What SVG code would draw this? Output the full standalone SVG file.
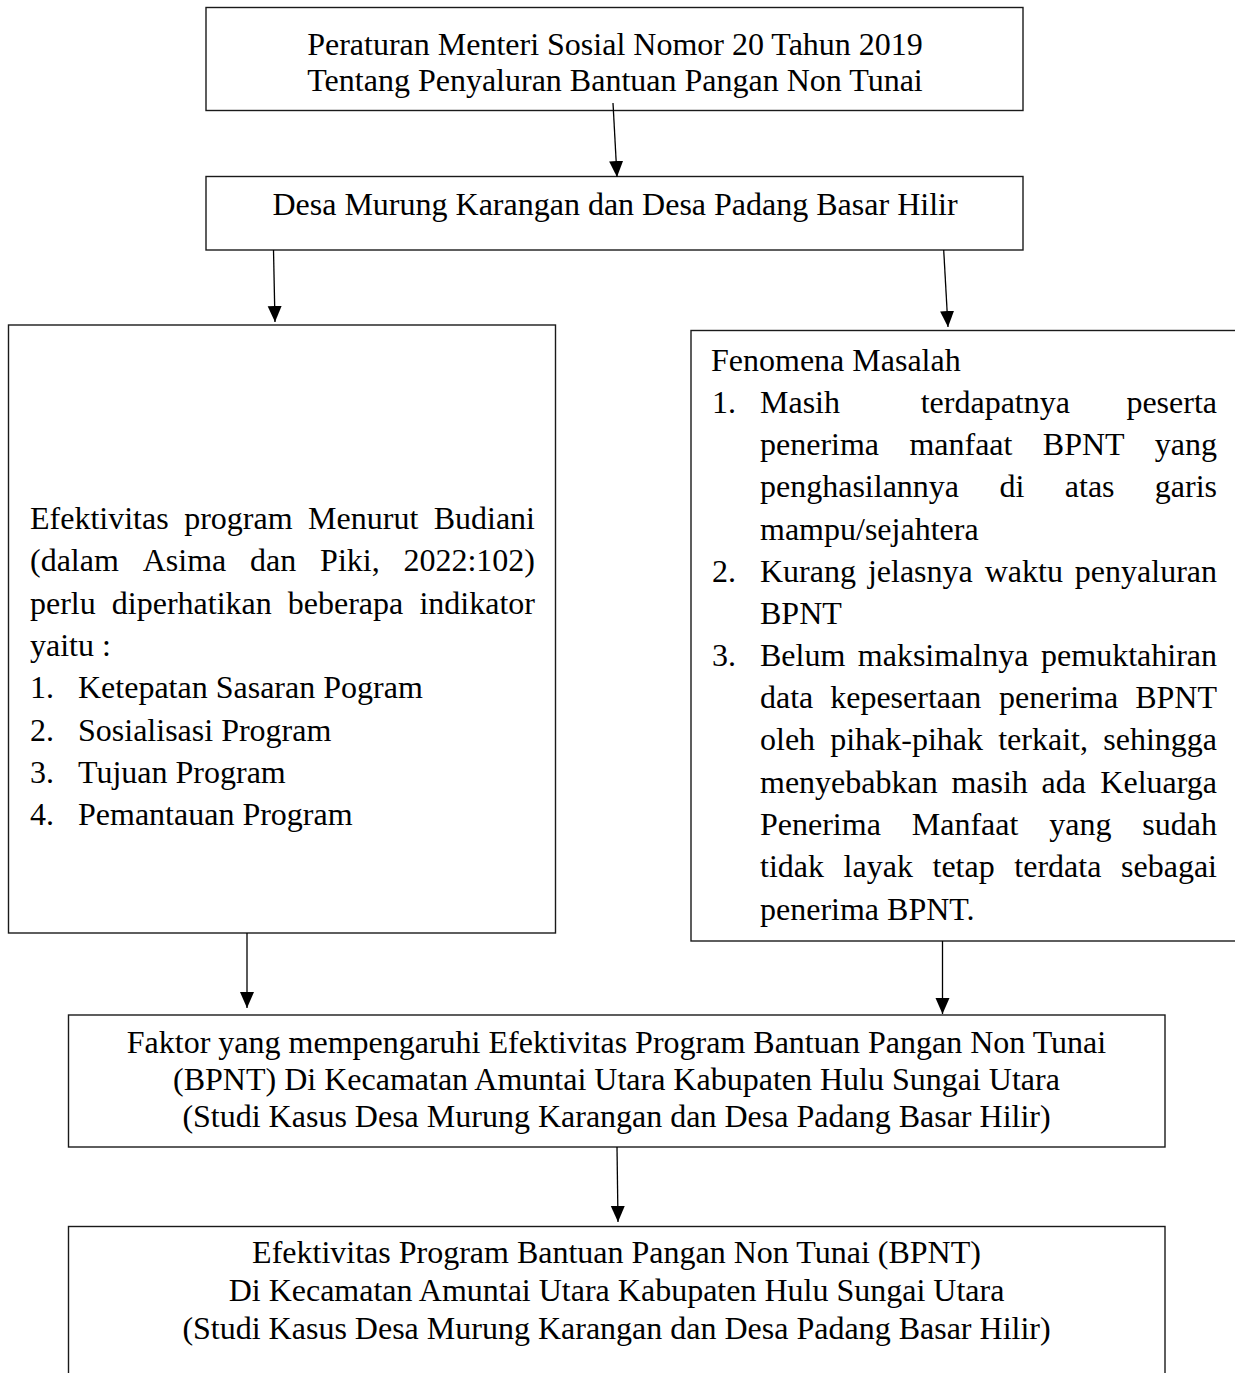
<svg xmlns="http://www.w3.org/2000/svg" width="1235" height="1373" viewBox="0 0 1235 1373">
<style>
  .box { fill: #ffffff; stroke: #1a1a1a; stroke-width: 1.4; }
  .t { font-family: "Liberation Serif", "Times New Roman", serif; font-size: 32px; fill: #000; }
  .c { text-anchor: middle; }
  .conn { stroke: #000; stroke-width: 1.3; fill: none; marker-end: url(#arr); }
</style>
<defs>
  <marker id="arr" markerUnits="userSpaceOnUse" markerWidth="17" markerHeight="15" refX="16" refY="7" orient="auto" viewBox="0 0 17 15">
    <path d="M0,0 L16,7 L0,14 z" fill="#000"/>
  </marker>
</defs>
<rect width="1235" height="1373" fill="#ffffff"/>

<g id="node-peraturan">
  <rect class="box" x="206" y="7.5" width="817" height="103"/>
  <text class="t c" x="615" y="55">Peraturan Menteri Sosial Nomor 20 Tahun 2019</text>
  <text class="t c" x="615" y="91">Tentang Penyaluran Bantuan Pangan Non Tunai</text>
</g>

<g id="node-desa">
  <rect class="box" x="206" y="176.5" width="817" height="73.5"/>
  <text class="t c" x="615" y="215">Desa Murung Karangan dan Desa Padang Basar Hilir</text>
</g>

<g id="node-efektivitas-indikator">
  <rect class="box" x="8.5" y="325" width="547" height="608"/>
  <text class="t" y="529"><tspan x="30">Efektivitas</tspan><tspan x="184.2">program</tspan><tspan x="308.1">Menurut</tspan><tspan x="535" text-anchor="end">Budiani</tspan></text>
  <text class="t" y="571"><tspan x="30">(dalam</tspan><tspan x="142.7">Asima</tspan><tspan x="250.1">dan</tspan><tspan x="320.1">Piki,</tspan><tspan x="535" text-anchor="end">2022:102)</tspan></text>
  <text class="t" y="614"><tspan x="30">perlu</tspan><tspan x="111.8">diperhatikan</tspan><tspan x="287.8">beberapa</tspan><tspan x="535" text-anchor="end">indikator</tspan></text>
  <text class="t" x="30" y="656">yaitu :</text>
  <text class="t" x="30" y="698">1.</text><text class="t" x="78" y="698">Ketepatan Sasaran Pogram</text>
  <text class="t" x="30" y="741">2.</text><text class="t" x="78" y="741">Sosialisasi Program</text>
  <text class="t" x="30" y="783">3.</text><text class="t" x="78" y="783">Tujuan Program</text>
  <text class="t" x="30" y="825">4.</text><text class="t" x="78" y="825">Pemantauan Program</text>
</g>

<g id="node-fenomena">
  <rect class="box" x="691" y="330.5" width="560" height="610.5"/>
  <text class="t" x="711" y="371">Fenomena Masalah</text>
  <text class="t" x="712" y="413">1.</text>
  <text class="t" y="413"><tspan x="760">Masih</tspan><tspan x="920.7">terdapatnya</tspan><tspan x="1217" text-anchor="end">peserta</tspan></text>
  <text class="t" y="455"><tspan x="760">penerima</tspan><tspan x="909.4">manfaat</tspan><tspan x="1042.8">BPNT</tspan><tspan x="1217" text-anchor="end">yang</tspan></text>
  <text class="t" y="497"><tspan x="760">penghasilannya</tspan><tspan x="999.5">di</tspan><tspan x="1064.8">atas</tspan><tspan x="1217" text-anchor="end">garis</tspan></text>
  <text class="t" x="760" y="540">mampu/sejahtera</text>
  <text class="t" x="712" y="582">2.</text>
  <text class="t" y="582"><tspan x="760">Kurang</tspan><tspan x="867.9">jelasnya</tspan><tspan x="984.7">waktu</tspan><tspan x="1217" text-anchor="end">penyaluran</tspan></text>
  <text class="t" x="760" y="624">BPNT</text>
  <text class="t" x="712" y="666">3.</text>
  <text class="t" y="666"><tspan x="760">Belum</tspan><tspan x="857.8">maksimalnya</tspan><tspan x="1217" text-anchor="end">pemuktahiran</tspan></text>
  <text class="t" y="708"><tspan x="760">data</tspan><tspan x="830.2">kepesertaan</tspan><tspan x="999.1">penerima</tspan><tspan x="1217" text-anchor="end">BPNT</tspan></text>
  <text class="t" y="750"><tspan x="760">oleh</tspan><tspan x="830.2">pihak-pihak</tspan><tspan x="998.2">terkait,</tspan><tspan x="1217" text-anchor="end">sehingga</tspan></text>
  <text class="t" y="793"><tspan x="760">menyebabkan</tspan><tspan x="951.4">masih</tspan><tspan x="1041.5">ada</tspan><tspan x="1217" text-anchor="end">Keluarga</tspan></text>
  <text class="t" y="835"><tspan x="760">Penerima</tspan><tspan x="911.8">Manfaat</tspan><tspan x="1049.3">yang</tspan><tspan x="1217" text-anchor="end">sudah</tspan></text>
  <text class="t" y="877"><tspan x="760">tidak</tspan><tspan x="843.6">layak</tspan><tspan x="932.5">tetap</tspan><tspan x="1014.3">terdata</tspan><tspan x="1217" text-anchor="end">sebagai</tspan></text>
  <text class="t" x="760" y="920">penerima BPNT.</text>
</g>

<g id="node-faktor">
  <rect class="box" x="68.5" y="1015" width="1096.5" height="132"/>
  <text class="t c" x="616.5" y="1053">Faktor yang mempengaruhi Efektivitas Program Bantuan Pangan Non Tunai</text>
  <text class="t c" x="616.5" y="1090">(BPNT) Di Kecamatan Amuntai Utara Kabupaten Hulu Sungai Utara</text>
  <text class="t c" x="616.5" y="1127">(Studi Kasus Desa Murung Karangan dan Desa Padang Basar Hilir)</text>
</g>

<g id="node-hasil">
  <rect class="box" x="68.5" y="1226.5" width="1096.5" height="180"/>
  <text class="t c" x="616.5" y="1263">Efektivitas Program Bantuan Pangan Non Tunai (BPNT)</text>
  <text class="t c" x="616.5" y="1301">Di Kecamatan Amuntai Utara Kabupaten Hulu Sungai Utara</text>
  <text class="t c" x="616.5" y="1339">(Studi Kasus Desa Murung Karangan dan Desa Padang Basar Hilir)</text>
</g>

<g id="connectors">
  <line class="conn" x1="613" y1="103" x2="617" y2="177"/>
  <line class="conn" x1="273.5" y1="250" x2="275" y2="322"/>
  <line class="conn" x1="943.7" y1="250" x2="948" y2="327"/>
  <line class="conn" x1="247" y1="933" x2="247" y2="1008"/>
  <line class="conn" x1="942.5" y1="941" x2="942.5" y2="1014"/>
  <line class="conn" x1="617" y1="1147" x2="618" y2="1222"/>
</g>
</svg>
